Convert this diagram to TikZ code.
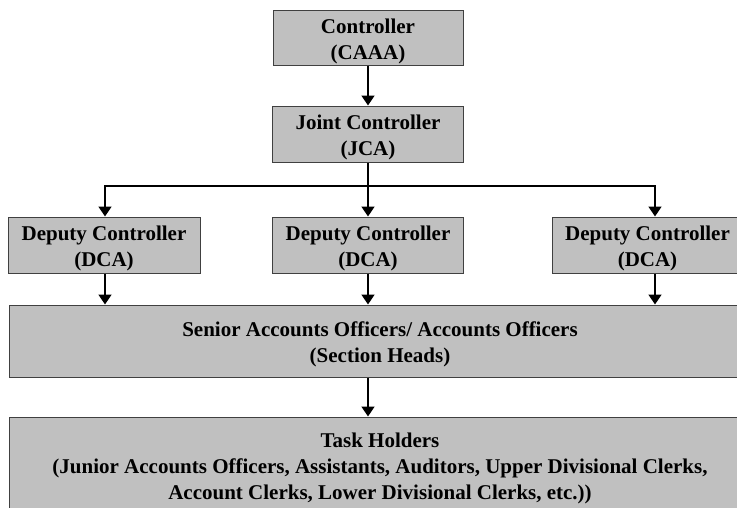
\documentclass[tikz,border=0pt]{standalone}
\usepackage{fontspec}
\setmainfont{Liberation Serif}
\usetikzlibrary{arrows.meta}
\definecolor{boxfill}{HTML}{C0C0C0}
\definecolor{boxline}{HTML}{404040}
\tikzset{
  orgbox/.style={draw=boxline, line width=1pt, fill=boxfill, inner sep=0pt, shape=rectangle},
  orgtext/.style={align=center, font=\fontsize{21}{26}\selectfont\bfseries, inner sep=0pt},
  link/.style={line width=1.5pt, -{Triangle[length=10pt,width=13pt]}},
  trunk/.style={line width=1.5pt}
}
\begin{document}
\begin{tikzpicture}[x=1pt,y=-1pt]
\useasboundingbox (0,0) rectangle (737,507);
\clip (0,0) rectangle (737,507);

% boxes
\node[orgbox, minimum width=190pt, minimum height=55pt] (ctrl) at (368,37.5) {};
\node[orgbox, minimum width=191pt, minimum height=56pt] (jca)  at (368,134) {};
\node[orgbox, minimum width=192pt, minimum height=56pt] (dcaL) at (104,245) {};
\node[orgbox, minimum width=191pt, minimum height=56pt] (dcaM) at (368,245) {};
\node[orgbox, minimum width=191pt, minimum height=56pt] (dcaR) at (647.5,245) {};
\node[orgbox, minimum width=742pt, minimum height=72pt] (sao)  at (380,341) {};
\node[orgbox, minimum width=742pt, minimum height=103pt] (task) at (380,468.5) {};

% labels
\node[orgtext] (ctrlT) at ([yshift=-3.5pt]ctrl.center) {Controller\\(CAAA)};
\node[orgtext] (jcaT)  at ([yshift=-3.5pt]jca.center) {Joint Controller\\(JCA)};
\node[orgtext] (dcaLT) at ([yshift=-3.5pt]dcaL.center) {Deputy Controller\\(DCA)};
\node[orgtext] (dcaMT) at ([yshift=-3.5pt]dcaM.center) {Deputy Controller\\(DCA)};
\node[orgtext] (dcaRT) at ([yshift=-3.5pt]dcaR.center) {Deputy Controller\\(DCA)};
\node[orgtext] (saoT)  at ([yshift=-3pt]sao.center) {Senior Accounts Officers/ Accounts Officers\\(Section Heads)};
\node[orgtext] (taskT) at (380,468) {Task Holders\\(Junior Accounts Officers, Assistants, Auditors, Upper Divisional Clerks,\\Account Clerks, Lower Divisional Clerks, etc.))};

% connectors
\coordinate (split) at (368,186);
\draw[link] (ctrl.south) -- (jca.north);
\draw[trunk] (jca.south) -- (split);
\draw[link] (split) -- (dcaM.north);
\draw[link] (split) -| ([xshift=1pt]dcaL.north);
\draw[link] (split) -| ([xshift=7.5pt]dcaR.north);
\draw[link] ([xshift=1pt]dcaL.south) -- ([xshift=1pt]dcaL.south |- sao.north);
\draw[link] (dcaM.south) -- (dcaM.south |- sao.north);
\draw[link] ([xshift=7.5pt]dcaR.south) -- ([xshift=7.5pt]dcaR.south |- sao.north);
\draw[link] (sao.south -| ctrl.south) -- (task.north -| ctrl.south);
\end{tikzpicture}
\end{document}
